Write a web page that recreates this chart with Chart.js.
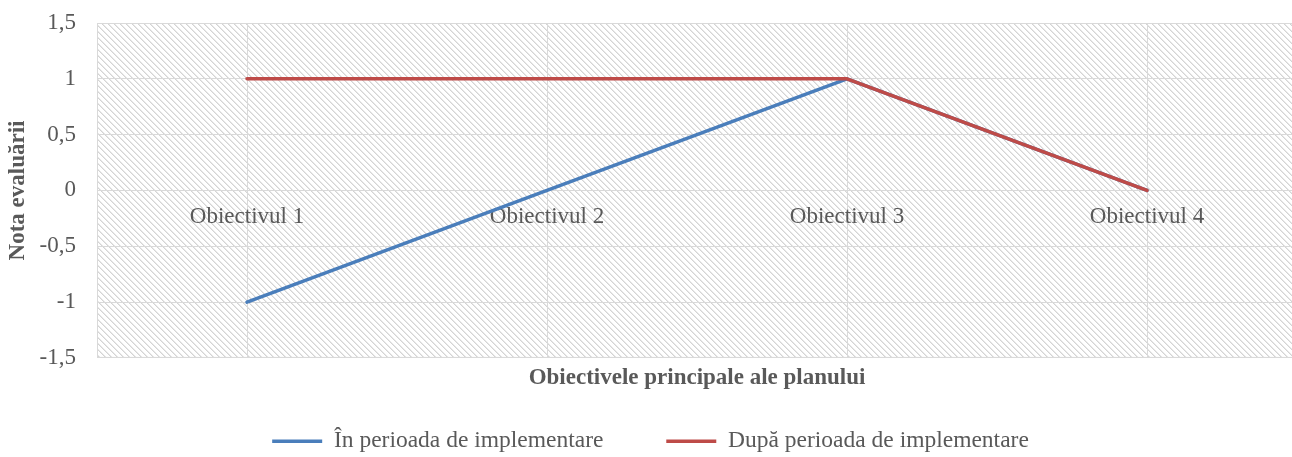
<!DOCTYPE html>
<html>
<head>
<meta charset="utf-8">
<script src="https://cdn.jsdelivr.net/npm/chart.js@4"></script>
<style>
  body { margin: 0; overflow: hidden; background: #fff; }
  #wrap { width: 1298px; height: 457px; position: relative; }
</style>
</head>
<body>
<div id="wrap"><canvas id="myChart"></canvas></div>
<script>
// date
var obiective = ["Obiectivul 1", "Obiectivul 2", "Obiectivul 3", "Obiectivul 4"];
var inPerioada = [-1, 0, 1, 0];
var dupaPerioada = [1, 1, 1, 0];
var yTicks = [-1.5, -1, -0.5, 0, 0.5, 1, 1.5];

var grey = "#595959";
var font = "'Liberation Serif', 'Times New Roman', serif";

// hasura de fundal (diagonala descendenta)
function makePattern() {
  var n = 6;
  var p = document.createElement("canvas");
  p.width = n; p.height = n;
  var c = p.getContext("2d");
  c.fillStyle = "#ffffff";
  c.fillRect(0, 0, n, n);
  for (var y = 0; y < n; y++) {
    for (var x = 0; x < n; x++) {
      var k = ((x - y) % n + n) % n;
      if (k == 0) { c.fillStyle = "#d4d4d4"; c.fillRect(x, y, 1, 1); }
      if (k == 1) { c.fillStyle = "#e8e8e8"; c.fillRect(x, y, 1, 1); }
    }
  }
  return p;
}

var hatch = {
  id: "hatch",
  beforeDraw: function (chart) {
    var a = chart.chartArea, ctx = chart.ctx;
    ctx.save();
    ctx.fillStyle = ctx.createPattern(makePattern(), "repeat");
    ctx.fillRect(a.left, a.top, a.right - a.left, a.bottom - a.top);
    ctx.strokeStyle = "#d9d9d9";
    ctx.lineWidth = 1;
    ctx.strokeRect(a.left + 0.5, a.top + 0.5, a.right - a.left - 1, a.bottom - a.top - 1);
    ctx.restore();
  }
};

function noPad(s) { s.paddingTop = 0; s.paddingBottom = 0; }

var chart = new Chart("myChart", {
  type: "line",
  data: {
    labels: obiective,
    datasets: [
      {
        data: inPerioada, label: "În perioada de implementare",
        borderColor: "#4A7EBB", backgroundColor: "#4A7EBB", borderWidth: 3.5,
        borderCapStyle: "round", borderJoinStyle: "round",
        pointRadius: 0, pointStyle: "line", order: 1
      },
      {
        data: dupaPerioada, label: "După perioada de implementare",
        borderColor: "#BE4B48", backgroundColor: "#BE4B48", borderWidth: 3.5,
        borderCapStyle: "round", borderJoinStyle: "round",
        pointRadius: 0, pointStyle: "line", order: 0
      }
    ]
  },
  options: {
    responsive: true,
    maintainAspectRatio: false,
    animation: false,
    layout: { padding: { top: 23, left: 4, right: 1, bottom: -6 } },
    plugins: {
      tooltip: { enabled: false },
      legend: {
        position: "bottom",
        reverse: true,
        labels: {
          usePointStyle: true,
          pointStyleWidth: 50,
          boxHeight: 4,
          padding: 10,
          color: grey,
          font: { family: font, size: 23.5 },
          generateLabels: function (ch) {
            var items = Chart.defaults.plugins.legend.labels.generateLabels(ch);
            // spatiu intre cele doua intrari
            items.forEach(function (it) {
              if (it.datasetIndex == 0) it.text = it.text + "         ";
            });
            return items;
          }
        }
      }
    },
    scales: {
      x: {
        offset: true,
        afterFit: noPad,
        grid: { offset: false, color: "#d9d9d9", drawTicks: false },
        border: { color: "#d9d9d9" },
        ticks: { display: false },
        title: {
          display: true, text: "Obiectivele principale ale planului",
          color: grey, font: { family: font, size: 23, weight: "bold" },
          padding: { top: 6, bottom: 28 }
        }
      },
      x2: {
        axis: "x",
        type: "category",
        labels: obiective,
        position: { y: 0 },
        offset: true,
        afterFit: noPad,
        grid: { display: false, drawTicks: false },
        border: { display: false },
        ticks: { color: grey, padding: 13, font: { family: font, size: 23 } }
      },
      y: {
        min: -1.5,
        max: 1.5,
        afterFit: noPad,
        afterBuildTicks: function (s) { s.ticks = yTicks.map(function (v) { return { value: v }; }); },
        grid: { color: "#d9d9d9", drawTicks: false },
        border: { color: "#d9d9d9" },
        ticks: {
          padding: 21, color: grey, font: { family: font, size: 23 },
          callback: function (v) { return String(v).replace(".", ","); }
        },
        title: {
          display: true, text: "Nota evaluării",
          color: grey, font: { family: font, size: 23, weight: "bold" },
          padding: { top: 0, bottom: -13 }
        }
      }
    }
  },
  plugins: [hatch]
});
</script>
</body>
</html>
